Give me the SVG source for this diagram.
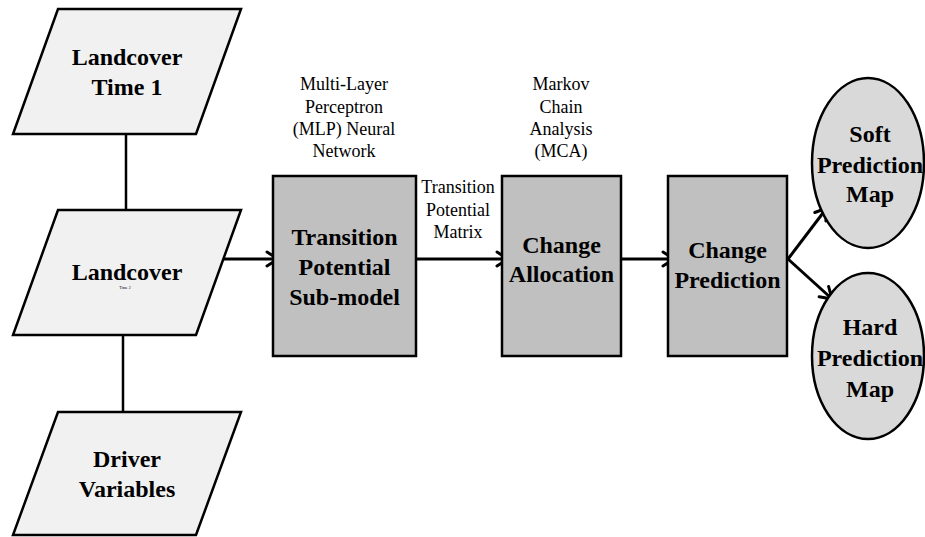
<svg xmlns="http://www.w3.org/2000/svg" width="925" height="537" viewBox="0 0 925 537">
<style>
.para{fill:#f1f1f1;stroke:#000;stroke-width:2.5;stroke-linejoin:miter}
.box{fill:#c0c0c0;stroke:#000;stroke-width:2.5}
.ell{fill:#d9d9d9;stroke:#000;stroke-width:2.5}
.bt{font-family:"Liberation Serif","Times New Roman",serif;font-weight:bold;font-size:24px;fill:#000;text-anchor:middle}
.lt{font-family:"Liberation Serif","Times New Roman",serif;font-size:18px;fill:#000;text-anchor:middle}
.ln{stroke:#000;stroke-width:2.5;fill:none}
.ar{stroke:#000;stroke-width:3;fill:none}
.hd{stroke:#000;stroke-width:3;fill:none;stroke-linejoin:miter;stroke-linecap:round}
</style>
<defs>
<path id="ah" d="M-11,-7 L0,0 L-11,7"/>
</defs>
<g id="connectors">
<line class="ln" x1="126" y1="134" x2="126" y2="210"/>
<line class="ln" x1="123" y1="335" x2="123" y2="412"/>
<line class="ar" x1="210" y1="259" x2="277" y2="259"/>
<use href="#ah" class="hd" transform="translate(278,259)"/>
<line class="ar" x1="408" y1="259" x2="507" y2="259"/>
<use href="#ah" class="hd" transform="translate(508,259)"/>
<line class="ar" x1="605" y1="259" x2="673" y2="259"/>
<use href="#ah" class="hd" transform="translate(674,259)"/>
<line class="ar" x1="788" y1="259" x2="826" y2="209"/>
<use href="#ah" class="hd" transform="translate(827,208) rotate(-52.7)"/>
<line class="ar" x1="788" y1="259" x2="831" y2="298"/>
<use href="#ah" class="hd" transform="translate(832,299) rotate(42.3)"/>
</g>
<g id="landcover1">
<polygon class="para" points="58,9 241,9 196,134 13,134"/>
<text class="bt" x="127" y="65">Landcover</text>
<text class="bt" x="127" y="95">Time 1</text>
</g>
<g id="landcover2">
<polygon class="para" points="58,210 241,210 196,335 13,335"/>
<text class="bt" x="127" y="280">Landcover</text>
<text x="125" y="289" style="font-family:'Liberation Serif',serif;font-size:4px;text-anchor:middle">Time 2</text>
</g>
<g id="driver">
<polygon class="para" points="58,412 241,412 196,535 13,535"/>
<text class="bt" x="127" y="467">Driver</text>
<text class="bt" x="127" y="497">Variables</text>
</g>
<g id="mlp-label">
<text class="lt" x="344" y="90">Multi-Layer</text>
<text class="lt" x="344" y="113">Perceptron</text>
<text class="lt" x="344" y="135">(MLP) Neural</text>
<text class="lt" x="344" y="157">Network</text>
</g>
<g id="tps">
<rect class="box" x="273" y="176" width="143" height="180"/>
<text class="bt" x="344.5" y="245">Transition</text>
<text class="bt" x="344.5" y="275">Potential</text>
<text class="bt" x="344.5" y="305">Sub-model</text>
</g>
<g id="tpm-label">
<text class="lt" x="458" y="193">Transition</text>
<text class="lt" x="458" y="216">Potential</text>
<text class="lt" x="458" y="238">Matrix</text>
</g>
<g id="mca-label">
<text class="lt" x="561" y="90">Markov</text>
<text class="lt" x="561" y="113">Chain</text>
<text class="lt" x="561" y="135">Analysis</text>
<text class="lt" x="561" y="157">(MCA)</text>
</g>
<g id="alloc">
<rect class="box" x="502" y="176" width="119" height="180"/>
<text class="bt" x="561.5" y="253">Change</text>
<text class="bt" x="561.5" y="282">Allocation</text>
</g>
<g id="pred">
<rect class="box" x="668" y="176" width="119" height="180"/>
<text class="bt" x="727.5" y="258">Change</text>
<text class="bt" x="727.5" y="288">Prediction</text>
</g>
<g id="soft">
<ellipse class="ell" cx="868" cy="163" rx="56" ry="85"/>
<text class="bt" x="870" y="142">Soft</text>
<text class="bt" x="870" y="173">Prediction</text>
<text class="bt" x="870" y="202">Map</text>
</g>
<g id="hard">
<ellipse class="ell" cx="868" cy="356" rx="56" ry="83"/>
<text class="bt" x="870" y="335">Hard</text>
<text class="bt" x="870" y="366">Prediction</text>
<text class="bt" x="870" y="397">Map</text>
</g>
</svg>
